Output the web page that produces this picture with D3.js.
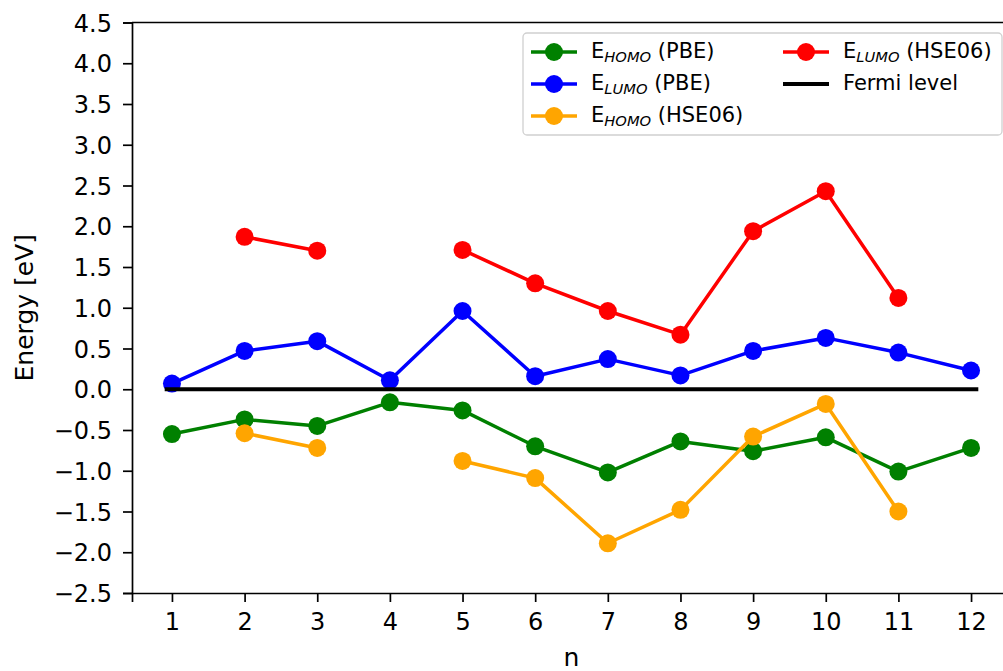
<!DOCTYPE html>
<html>
<head>
<meta charset="utf-8">
<script src="https://cdn.jsdelivr.net/npm/d3@7"></script>
<style>
  html, body { margin: 0; padding: 0; background: #fff; }
  svg { display: block; font-family: "DejaVu Sans", sans-serif; }
</style>
</head>
<body>
<svg id="chart" width="1003" height="671"></svg>
<script>
// Cluster size n
const nValues = [1, 2, 3, 4, 5, 6, 7, 8, 9, 10, 11, 12];

// Frontier orbital energies (eV); null where no HSE06 value exists
const homoPBE   = [-0.55, -0.37, -0.45, -0.16, -0.26, -0.70, -1.02, -0.64, -0.76, -0.59, -1.01, -0.72];
const lumoPBE   = [0.07, 0.47, 0.59, 0.11, 0.96, 0.16, 0.37, 0.17, 0.47, 0.63, 0.45, 0.23];
const homoHSE06 = [null, -0.54, -0.72, null, -0.88, -1.09, -1.89, -1.48, -0.58, -0.18, -1.50, null];
const lumoHSE06 = [null, 1.87, 1.70, null, 1.71, 1.30, 0.96, 0.67, 1.94, 2.43, 1.12, null];

const fermiLevel = 0.0;
const fermiSpan = [0.9, 12.1];

const yTicks = [-2.5, -2.0, -1.5, -1.0, -0.5, 0.0, 0.5, 1.0, 1.5, 2.0, 2.5, 3.0, 3.5, 4.0, 4.5];

const series = [
  { main: "HOMO", method: "(PBE)",   color: "#008000", values: homoPBE },
  { main: "LUMO", method: "(PBE)",   color: "#0000ff", values: lumoPBE },
  { main: "HOMO", method: "(HSE06)", color: "#ffa500", values: homoHSE06 },
  { main: "LUMO", method: "(HSE06)", color: "#ff0000", values: lumoHSE06 }
];

const svg = d3.select("#chart");
const TICK_FONT = 24;
const LABEL_FONT = 25;
const LEGEND_FONT = 21;
const LW = 3.5;
const MR = 9;

const x = d3.scaleLinear().domain([0.45, 12.55]).range([132, 1011]);
const y = d3.scaleLinear().domain([-2.5, 4.5]).range([593, 22.5]);

const fmt = v => d3.format(".1f")(v).replace("-", "\u2212");

// Axes
const xAxis = svg.append("g")
  .attr("transform", `translate(0,${y.range()[0]})`)
  .call(d3.axisBottom(x).tickValues(nValues).tickFormat(d3.format("d")).tickSizeOuter(0).tickSize(9).tickPadding(11));
const yAxis = svg.append("g")
  .attr("transform", `translate(${x.range()[0]},0)`)
  .call(d3.axisLeft(y).tickValues(yTicks).tickFormat(fmt).tickSizeOuter(0).tickSize(9).tickPadding(11));

[xAxis, yAxis].forEach(g => {
  g.attr("font-family", null).attr("font-size", null);
  g.select(".domain").attr("stroke", "#000").attr("stroke-width", 1.7);
  g.selectAll(".tick line").attr("stroke", "#000").attr("stroke-width", 1.7);
  g.selectAll(".tick text").attr("fill", "#000").style("font-size", TICK_FONT + "px");
});
yAxis.selectAll(".tick text").attr("dy", "0.36em");
xAxis.selectAll(".tick text").attr("dy", "0.72em");

// Top and right frame
svg.append("line")
  .attr("x1", x.range()[0]).attr("x2", x.range()[1])
  .attr("y1", y.range()[1]).attr("y2", y.range()[1])
  .attr("stroke", "#000").attr("stroke-width", 1.7);
svg.append("line")
  .attr("x1", x.range()[1]).attr("x2", x.range()[1])
  .attr("y1", y.range()[1]).attr("y2", y.range()[0])
  .attr("stroke", "#000").attr("stroke-width", 1.7);

// Axis titles
svg.append("text")
  .attr("x", (x.range()[0] + x.range()[1]) / 2).attr("y", 666)
  .attr("text-anchor", "middle")
  .style("font-size", LABEL_FONT + "px")
  .text("n");
svg.append("text")
  .attr("transform", `translate(33,${(y.range()[0] + y.range()[1]) / 2}) rotate(-90)`)
  .attr("text-anchor", "middle")
  .style("font-size", LABEL_FONT + "px")
  .text("Energy [eV]");

// Series
const plot = svg.append("g");
const line = d3.line()
  .defined(d => d.v !== null)
  .x(d => x(d.n))
  .y(d => y(d.v));

series.forEach(s => {
  const pts = nValues.map((n, i) => ({ n, v: s.values[i] }));
  plot.append("path")
    .datum(pts)
    .attr("fill", "none")
    .attr("stroke", s.color)
    .attr("stroke-width", LW)
    .attr("stroke-linejoin", "round")
    .attr("d", line);
  plot.selectAll(null)
    .data(pts.filter(d => d.v !== null))
    .join("circle")
    .attr("cx", d => x(d.n))
    .attr("cy", d => y(d.v))
    .attr("r", MR)
    .attr("fill", s.color);
});

// Fermi level
plot.append("line")
  .attr("x1", x(fermiSpan[0])).attr("x2", x(fermiSpan[1]))
  .attr("y1", y(fermiLevel)).attr("y2", y(fermiLevel))
  .attr("stroke", "#000").attr("stroke-width", 4);

// Legend
const legend = svg.append("g");
legend.append("rect")
  .attr("x", 523).attr("y", 33).attr("width", 479).attr("height", 102)
  .attr("rx", 4).attr("ry", 4)
  .attr("fill", "#fff").attr("fill-opacity", 0.85)
  .attr("stroke", "#d0d0d0").attr("stroke-width", 1.3);

const entries = [
  { s: series[0], col: 0, row: 0 },
  { s: series[1], col: 0, row: 1 },
  { s: series[2], col: 0, row: 2 },
  { s: series[3], col: 1, row: 0 },
  { s: null, col: 1, row: 1 }
];
const colX = [531, 783];
const rowY = [52, 84, 116];

entries.forEach(e => {
  const x0 = colX[e.col], yy = rowY[e.row];
  const color = e.s ? e.s.color : "#000";
  legend.append("line")
    .attr("x1", x0).attr("x2", x0 + 46)
    .attr("y1", yy).attr("y2", yy)
    .attr("stroke", color).attr("stroke-width", e.s ? LW : 4);
  if (e.s) {
    legend.append("circle").attr("cx", x0 + 23).attr("cy", yy).attr("r", MR).attr("fill", color);
  }
  const t = legend.append("text")
    .attr("x", x0 + 60).attr("y", yy + 6)
    .style("font-size", LEGEND_FONT + "px");
  if (e.s) {
    t.append("tspan").text("E");
    t.append("tspan")
      .attr("dy", 4)
      .style("font-size", "14.7px").style("font-style", "italic")
      .text(e.s.main);
    t.append("tspan").attr("dy", -4).text("\u00a0" + e.s.method);
  } else {
    t.text("Fermi level");
  }
});
</script>
</body>
</html>
